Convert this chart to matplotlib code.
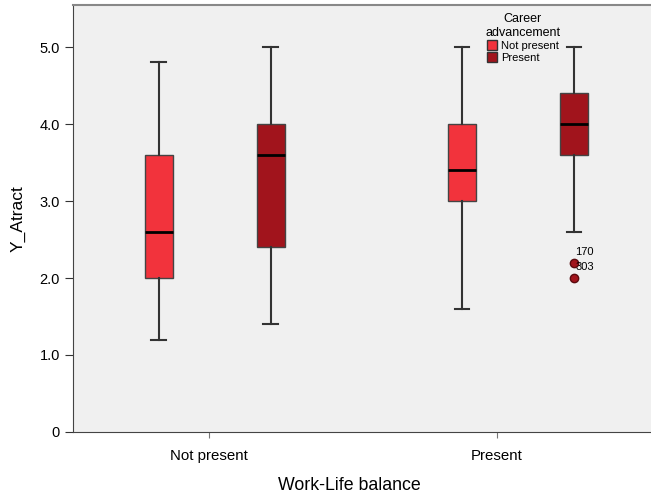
import numpy as np
import matplotlib.pyplot as plt
from matplotlib.patches import Patch

plt.rcParams['font.family'] = ['Liberation Sans', 'DejaVu Sans']

# Datos (Work-Life balance x Career advancement)
grupos = ["Not present", "Present"]
series = ["Not present", "Present"]
colores = ["#F2333C", "#A1141C"]

whis_lo = [[1.2, 1.4], [1.6, 2.6]]
q1 = [[2.0, 2.4], [3.0, 3.6]]
mediana = [[2.6, 3.6], [3.4, 4.0]]
q3 = [[3.6, 4.0], [4.0, 4.4]]
whis_hi = [[4.8, 5.0], [5.0, 5.0]]
atipicos = [[[], []], [[], [2.2, 2.0]]]
etiquetas_atip = [[[], []], [[], ["170", "303"]]]

# desplazamientos de cada caja respecto a la marca del grupo
offsets = [[-0.175, 0.214], [-0.122, 0.267]]

fig = plt.figure(figsize=(6.51, 4.97), dpi=100)
ax = fig.add_axes([0.1121, 0.1308, 0.888, 0.859])
ax.set_facecolor("#F0F0F0")

for g in range(len(grupos)):
    for s in range(len(series)):
        stats = [{
            "whislo": whis_lo[g][s], "q1": q1[g][s], "med": mediana[g][s],
            "q3": q3[g][s], "whishi": whis_hi[g][s], "fliers": atipicos[g][s],
        }]
        pos = g + offsets[g][s]
        ax.bxp(stats, positions=[pos], widths=0.097, patch_artist=True,
               manage_ticks=False,
               boxprops=dict(facecolor=colores[s], edgecolor="#444444", linewidth=1),
               medianprops=dict(color="black", linewidth=2),
               whiskerprops=dict(color="#333333", linewidth=1.5),
               capprops=dict(color="#333333", linewidth=1.5),
               capwidths=0.05,
               flierprops=dict(marker="o", markerfacecolor=colores[s],
                               markeredgecolor="#5a0a0e", markersize=6))
        for v, lab in zip(atipicos[g][s], etiquetas_atip[g][s]):
            ax.annotate(lab, (pos, v), xytext=(1, 4), textcoords="offset points",
                        fontsize=8, ha="left", va="bottom")

ax.set_xlim(-0.4722, 1.5347)
ax.set_ylim(0, 5.545)
ax.set_xticks([0, 1])
ax.set_xticklabels(grupos, fontsize=10.8)
ax.set_yticks([0, 1, 2, 3, 4, 5])
ax.set_yticklabels(["0", "1.0", "2.0", "3.0", "4.0", "5.0"], fontsize=10.5)
ax.tick_params(axis="y", length=6, color="#333333")
ax.tick_params(axis="x", length=4, color="#777777", pad=8)

ax.spines["right"].set_visible(False)
ax.spines["top"].set_color("#888888")
ax.spines["top"].set_linewidth(1.5)
ax.spines["left"].set_color("#444444")
ax.spines["bottom"].set_color("#444444")

ax.set_xlabel("Work-Life balance", fontsize=12.8, labelpad=10)
ax.xaxis.set_label_coords(0.478, -0.105)
ax.set_ylabel("Y_Atract", fontsize=12.5, labelpad=10)

handles = [Patch(facecolor=c, edgecolor="#333333", label=l) for c, l in zip(colores, series)]
leg = ax.legend(handles=handles, title="Career\nadvancement", loc="upper left",
                bbox_to_anchor=(0.700, 1.0), frameon=False, fontsize=8,
                title_fontsize=9, handlelength=0.9, handleheight=0.9,
                handletextpad=0.4, labelspacing=0.15, borderaxespad=0.3)
leg.get_title().set_multialignment("center")

plt.savefig("out.png", dpi=100)
